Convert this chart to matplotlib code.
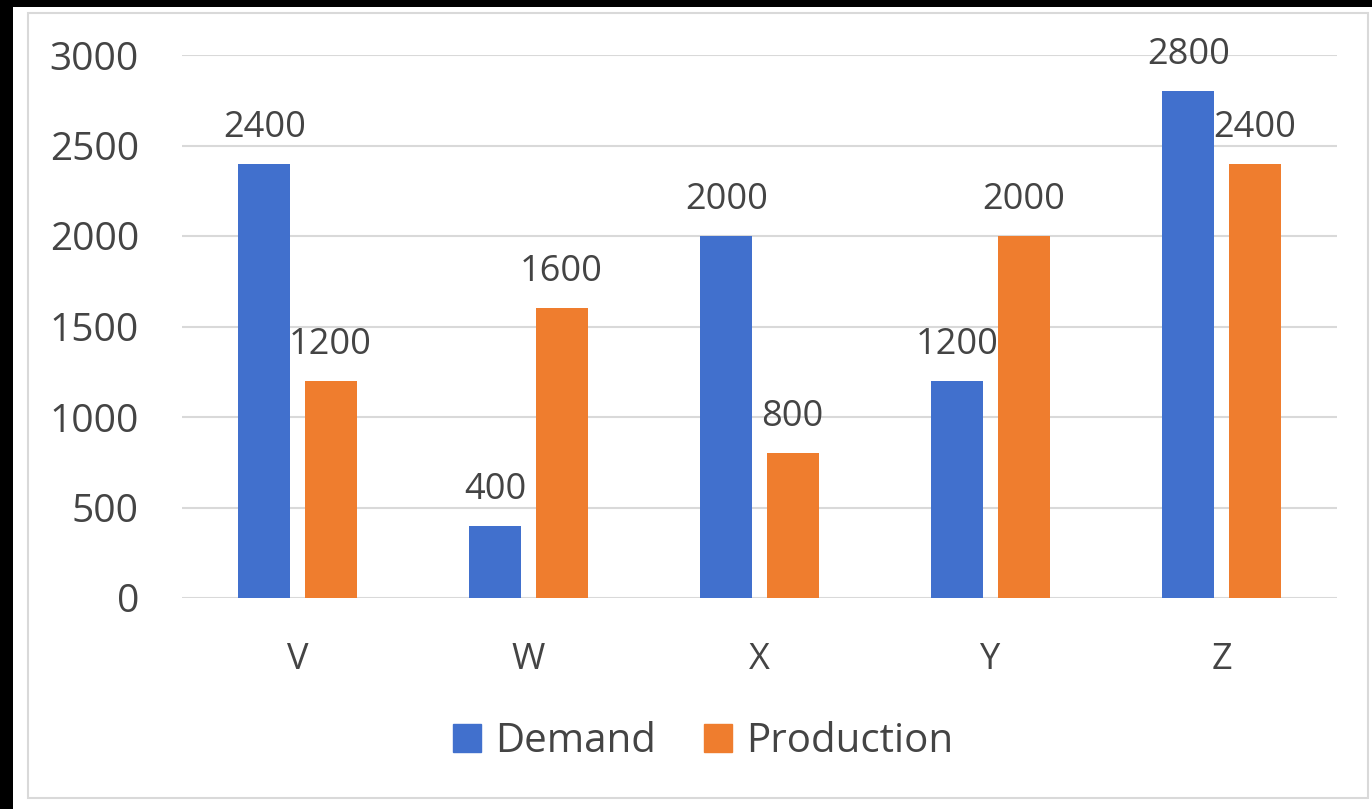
import matplotlib.pyplot as plt
from matplotlib.patches import Rectangle, Patch
import numpy as np

categories = ['V', 'W', 'X', 'Y', 'Z']
demand = [2400, 400, 2000, 1200, 2800]
production = [1200, 1600, 800, 2000, 2400]
y_ticks = [0, 500, 1000, 1500, 2000, 2500, 3000]

blue = '#4170CD'
orange = '#EF7D2E'
txt = '#444444'

plt.rcParams['font.family'] = ['Open Sans', 'DejaVu Sans']

fig = plt.figure(figsize=(13.72, 8.09), dpi=100, facecolor='black')
W, H = 1372.0, 809.0
# white chart background inside the black frame
fig.patches.append(Rectangle((13 / W, 0), 1 - 13 / W, 1 - 7 / H, transform=fig.transFigure,
                             facecolor='white', edgecolor='none', zorder=-3))
fig.patches.append(Rectangle((28 / W, 11 / H), 1340 / W, 1 - 24 / H, transform=fig.transFigure,
                             facecolor='none', edgecolor='#d9d9d9', lw=1.5, zorder=-2))

ax = fig.add_axes([182 / W, 1 - 598 / H, 1155 / W, 543 / H])
ax.set_facecolor('none')

x = np.arange(len(categories))
w = 0.225
off = 0.143
b1 = ax.bar(x - off, demand, w, color=blue, label='Demand', zorder=3)
b2 = ax.bar(x + off, production, w, color=orange, label='Production', zorder=3)

ax.bar_label(b1, padding=13, fontsize=26, color=txt)
ax.bar_label(b2, padding=13, fontsize=26, color=txt)

ax.set_xlim(-0.5, len(categories) - 0.5)
ax.set_ylim(0, 3000)
ax.set_yticks(y_ticks)
ax.set_yticklabels([str(v) for v in y_ticks])
ax.set_xticks(x)
ax.set_xticklabels(categories)
ax.tick_params(axis='y', length=0, pad=31, labelsize=28, labelcolor=txt)
ax.tick_params(axis='x', length=0, pad=32, labelsize=26, labelcolor=txt)
ax.grid(axis='y', color='#d9d9d9', lw=1.5, zorder=0)
for s in ax.spines.values():
    s.set_visible(False)

handles = [Patch(color=blue), Patch(color=orange)]
fig.legend(handles, ['Demand', 'Production'], loc='center',
           bbox_to_anchor=(703 / W, 1 - 742 / H), ncol=2, frameon=False,
           fontsize=29, labelcolor=txt, handlelength=0.7, handleheight=0.7,
           handletextpad=0.35, columnspacing=1.2)

fig.savefig('out.png', dpi=100, facecolor=fig.get_facecolor())
